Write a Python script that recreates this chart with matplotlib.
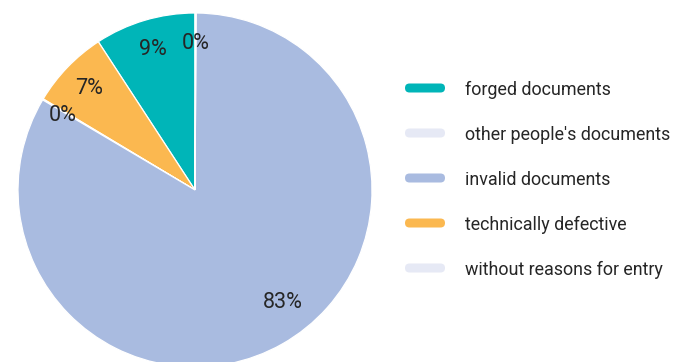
import matplotlib
matplotlib.use("Agg")
import matplotlib.pyplot as plt
from matplotlib.patches import FancyBboxPatch
import numpy as np

categories = [
    "forged documents",
    "other people's documents",
    "invalid documents",
    "technically defective",
    "without reasons for entry",
]
shares = [9.2, 0.1, 83.4, 7.2, 0.1]
colors = ["#00B5B8", "#E6E9F5", "#A9BBE0", "#FBB850", "#E6E9F5"]
# wedges are laid out counter-clockwise from 12 o'clock in this order
wedge_order = [0, 3, 4, 2, 1]

FONT = ["Roboto", "DejaVu Sans"]
TEXT_COLOR = "#262626"

W, H = 673, 362
fig = plt.figure(figsize=(W / 100, H / 100), dpi=100)
ax = fig.add_axes([0, 0, 1, 1])

cx, cy, r = 195, 172, 177
vals = [shares[i] for i in wedge_order]
cols = [colors[i] for i in wedge_order]
wedges, texts, autotexts = ax.pie(
    vals,
    colors=cols,
    startangle=90,
    counterclock=True,
    center=(cx, cy),
    radius=r,
    autopct="%.0f%%",
    pctdistance=0.83,
    wedgeprops=dict(edgecolor="white", linewidth=0.9),
    textprops=dict(color=TEXT_COLOR, fontsize=15.5, family=FONT),
)

# the large wedge's label sits a little further round, towards the lower right
big = wedge_order.index(2)
ang = np.deg2rad(308)
autotexts[big].set_position((cx + 0.81 * r * np.cos(ang), cy + 0.81 * r * np.sin(ang)))
# small wedge label just left of the orange/blue boundary
small = wedge_order.index(4)
ang = np.deg2rad(150.5)
autotexts[small].set_position((cx + 0.86 * r * np.cos(ang), cy + 0.86 * r * np.sin(ang)))

ax.set_xlim(0, W)
ax.set_ylim(0, H)
ax.set_aspect("equal")
ax.axis("off")

# legend: rounded colour bars with labels
for k, (name, col) in enumerate(zip(categories, colors)):
    base = H - (95 + 45 * k)
    mid = H - (88 + 45 * k)
    ax.add_patch(FancyBboxPatch((405, mid - 4.5), 40, 9,
                                boxstyle="round,pad=0,rounding_size=4.5",
                                facecolor=col, edgecolor="none"))
    ax.text(465, base, name, ha="left", va="baseline", fontsize=12.9,
            color=TEXT_COLOR, family=FONT)

fig.savefig("out.png", dpi=100, facecolor="white")
